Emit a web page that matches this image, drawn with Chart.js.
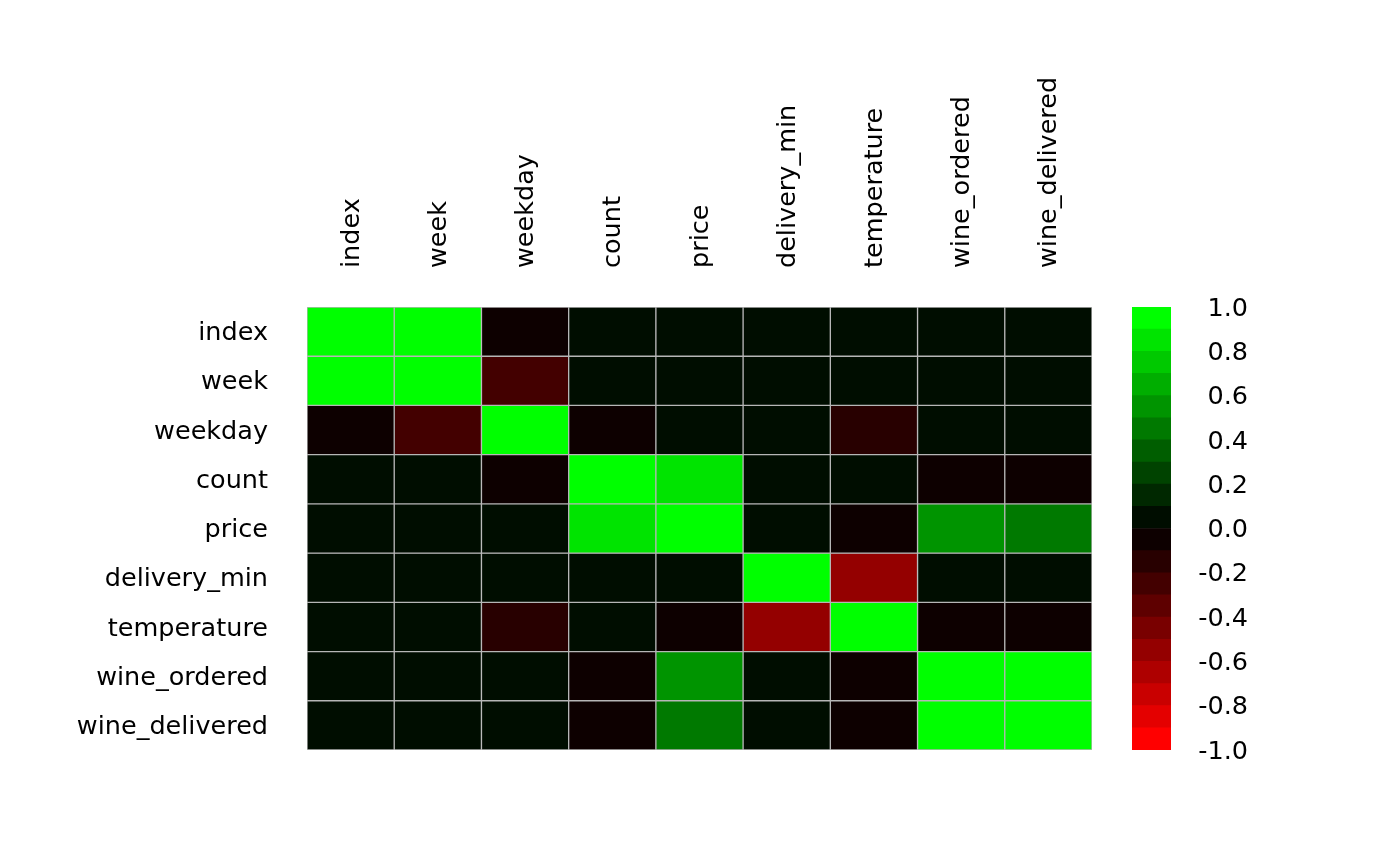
<!DOCTYPE html>
<html>
<head>
<meta charset="utf-8">
<script src="https://cdn.jsdelivr.net/npm/chart.js@4.4.1/dist/chart.umd.min.js"></script>
<style>
html, body { margin: 0; padding: 0; background: #fff; }
#wrap { position: relative; width: 1400px; height: 866px; }
canvas { position: absolute; top: 0; }
</style>
</head>
<body>
<div id="wrap">
  <canvas id="heat" width="1400" height="866" style="left:0"></canvas>
  <canvas id="scale" width="148" height="866" style="left:1100px"></canvas>
</div>
<script>
// variable names (rows top to bottom, columns left to right)
const varNames = ['index', 'week', 'weekday', 'count', 'price', 'delivery_min', 'temperature', 'wine_ordered', 'wine_delivered'];

// correlation rows (bin middles)
const rowIndex         = [ 1.00,  1.00, -0.05,  0.05,  0.05,  0.05,  0.05,  0.05,  0.05];
const rowWeek          = [ 1.00,  1.00, -0.25,  0.05,  0.05,  0.05,  0.05,  0.05,  0.05];
const rowWeekday       = [-0.05, -0.25,  1.00, -0.05,  0.05,  0.05, -0.15,  0.05,  0.05];
const rowCount         = [ 0.05,  0.05, -0.05,  1.00,  0.85,  0.05,  0.05, -0.05, -0.05];
const rowPrice         = [ 0.05,  0.05,  0.05,  0.85,  1.00,  0.05, -0.05,  0.55,  0.45];
const rowDeliveryMin   = [ 0.05,  0.05,  0.05,  0.05,  0.05,  1.00, -0.55,  0.05,  0.05];
const rowTemperature   = [ 0.05,  0.05, -0.15,  0.05, -0.05, -0.55,  1.00, -0.05, -0.05];
const rowWineOrdered   = [ 0.05,  0.05,  0.05, -0.05,  0.55,  0.05, -0.05,  1.00,  1.00];
const rowWineDelivered = [ 0.05,  0.05,  0.05, -0.05,  0.45,  0.05, -0.05,  1.00,  1.00];

// colour key: bin edges and tick labels
const binEdges = [-1.0, -0.9, -0.8, -0.7, -0.6, -0.5, -0.4, -0.3, -0.2, -0.1, 0.0,
                   0.1,  0.2,  0.3,  0.4,  0.5,  0.6,  0.7,  0.8,  0.9, 1.0];
const keyTicks = [-1.0, -0.8, -0.6, -0.4, -0.2, 0.0, 0.2, 0.4, 0.6, 0.8, 1.0];

const rows = [rowIndex, rowWeek, rowWeekday, rowCount, rowPrice, rowDeliveryMin, rowTemperature, rowWineOrdered, rowWineDelivered];

// red -> black -> green ramp, one colour per bin
const nBins = binEdges.length - 1;
const palette = [];
for (let k = 0; k < nBins; k++) {
    const t = k / (nBins - 1);
    const r = t < 0.5 ? Math.round(255 * (1 - 2 * t)) : 0;
    const g = t > 0.5 ? Math.round(255 * (2 * t - 1)) : 0;
    palette.push('rgb(' + r + ',' + g + ',0)');
}
function colourOf(v) {
    let k = Math.floor((v - binEdges[0]) / (binEdges[1] - binEdges[0]) + 1e-9);
    return palette[Math.max(0, Math.min(nBins - 1, k))];
}

Chart.defaults.font.family = "'DejaVu Sans', sans-serif";
Chart.defaults.font.size = 25.5;
Chart.defaults.color = '#000';

const heatSets = rows.map((vals, i) => ({
    data: varNames.map(() => [i, i + 1]),
    backgroundColor: vals.map(colourOf),
    borderColor: '#b6b6b6',
    borderWidth: 1,
    borderSkipped: false,
    grouped: false,
    barPercentage: 1,
    categoryPercentage: 1
}));

new Chart(document.getElementById('heat'), {
    type: 'bar',
    data: { labels: varNames, datasets: heatSets },
    options: {
        responsive: false,
        animation: false,
        layout: { padding: { left: 0, right: 308, top: 0, bottom: 116 } },
        plugins: { legend: { display: false }, tooltip: { enabled: false } },
        scales: {
            x: {
                type: 'category',
                position: 'top',
                grid: { display: false, drawTicks: false },
                border: { display: false },
                ticks: { autoSkip: false, maxRotation: 90, minRotation: 90, padding: 39, labelOffset: 32 },
                afterFit: function (s) { s.height = 307; }
            },
            y: {
                type: 'linear',
                position: 'left',
                min: 0,
                max: varNames.length,
                reverse: true,
                grid: { display: false, drawTicks: false },
                border: { display: false },
                ticks: {
                    autoSkip: false,
                    padding: 39,
                    labelOffset: 2,
                    callback: function (v) { return varNames[Math.floor(v)]; }
                },
                afterBuildTicks: function (s) {
                    s.ticks = varNames.map((_, i) => ({ value: i + 0.5 }));
                },
                afterFit: function (s) { s.width = 307; }
            }
        }
    }
});

const keySets = palette.map((c, k) => ({
    data: [[binEdges[k], binEdges[k + 1]]],
    backgroundColor: c,
    borderWidth: 0,
    grouped: false,
    barPercentage: 1,
    categoryPercentage: 1
}));

new Chart(document.getElementById('scale'), {
    type: 'bar',
    data: { labels: [''], datasets: keySets },
    options: {
        responsive: false,
        animation: false,
        layout: { padding: { left: 32, right: 0, top: 307, bottom: 116 } },
        plugins: { legend: { display: false }, tooltip: { enabled: false } },
        scales: {
            x: { display: false },
            y: {
                type: 'linear',
                position: 'right',
                min: binEdges[0],
                max: binEdges[binEdges.length - 1],
                grid: { display: false, drawTicks: false },
                border: { display: false },
                ticks: {
                    autoSkip: false,
                    padding: 29,
                    labelOffset: 2,
                    crossAlign: 'far',
                    callback: function (v) { return (Math.abs(v) < 1e-9 ? 0 : v).toFixed(1); }
                },
                afterBuildTicks: function (s) {
                    s.ticks = keyTicks.map(v => ({ value: v }));
                },
                afterFit: function (s) { s.width = 77; }
            }
        }
    }
});
</script>
</body>
</html>
